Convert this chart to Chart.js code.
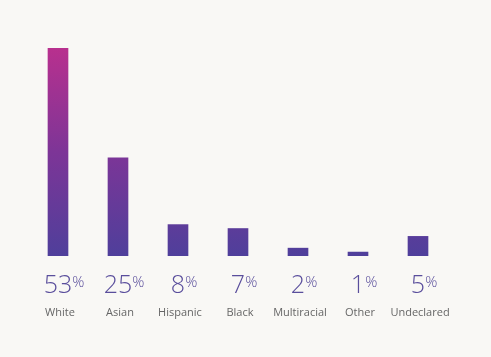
<!DOCTYPE html>
<html><head><meta charset="utf-8">
<script src="https://cdn.jsdelivr.net/npm/chart.js@4"></script>
<style>
html,body{margin:0;padding:0;background:#f9f8f5;}
#wrap{width:491px;height:357px;position:relative;}
</style></head>
<body><div id="wrap"><canvas id="c" width="491" height="357"></canvas></div>
<script>
const categories = ["White","Asian","Hispanic","Black","Multiracial","Other","Undeclared"];
const values = [53,25,8,7,2,1,5];
const pctLabels = ["53","25","8","7","2","1","5"];

const labelPlugin = {
  id:'labels',
  afterDraw(chart){
    const ctx = chart.ctx, x = chart.scales.x;
    ctx.save();
    categories.forEach((cat,i)=>{
      const cx = x.getPixelForValue(i);
      ctx.textBaseline='alphabetic';
      ctx.font = '300 25px "Open Sans", "DejaVu Sans", sans-serif';
      ctx.fillStyle = '#5a4e9c';
      ctx.textAlign='center';
      const num = pctLabels[i];
      const w = ctx.measureText(num).width;
      ctx.fillText(num, cx, 293);
      ctx.font = '300 15px "Open Sans", "DejaVu Sans", sans-serif';
      ctx.textAlign='left';
      ctx.fillText('%', cx + w/2, 287);
      ctx.font = '400 11px "Open Sans", "DejaVu Sans", sans-serif';
      ctx.fillStyle = '#666666';
      ctx.textAlign='center';
      ctx.fillText(cat, cx + 2, 316);
    });
    ctx.restore();
  }
};

const ctx = document.getElementById('c').getContext('2d');
new Chart(ctx,{
  type:'bar',
  data:{labels:categories,datasets:[{
    data:values,
    backgroundColor:(c)=>{
      const a = c.chart.chartArea;
      if(!a) return '#5a3e9a';
      const g = c.chart.ctx.createLinearGradient(0,a.top,0,a.bottom);
      g.addColorStop(0,'#b8308e');
      g.addColorStop(0.5,'#7d3597');
      g.addColorStop(1,'#4f3f9b');
      return g;
    },
    borderWidth:0,
    barThickness:20
  }]},
  options:{
    responsive:false,animation:false,
    layout:{padding:{left:28,right:43,top:48,bottom:101}},
    plugins:{legend:{display:false},tooltip:{enabled:false}},
    scales:{
      x:{display:false},
      y:{display:false,min:0,max:53}
    }
  },
  plugins:[labelPlugin]
});
</script></body></html>
